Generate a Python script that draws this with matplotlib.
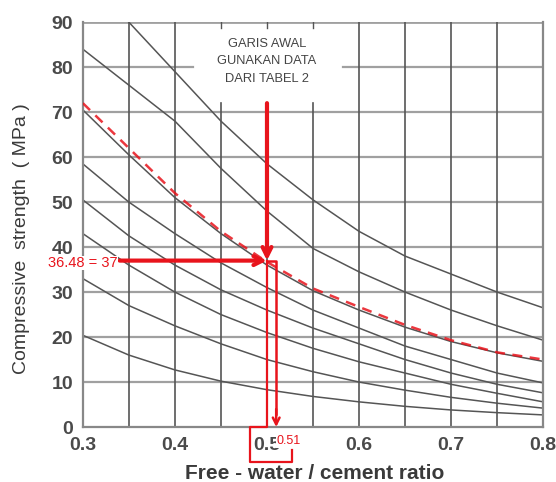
import numpy as np
import matplotlib.pyplot as plt

# free water / cement ratio where the curves were read
wc = [0.30, 0.35, 0.40, 0.45, 0.50, 0.55, 0.60, 0.65, 0.70, 0.75, 0.80]

# grey strength curves (MPa), top to bottom
curve_1 = [101.0, 90.0, 79.0, 68.0, 58.5, 50.5, 43.5, 38.0, 34.0, 30.0, 26.5]
curve_2 = [84.0, 76.0, 68.0, 57.5, 48.0, 39.7, 34.5, 30.0, 26.0, 22.5, 19.3]
curve_3 = [70.5, 60.5, 51.0, 43.0, 36.0, 30.3, 26.0, 22.2, 19.0, 16.5, 14.6]
curve_4 = [58.5, 50.0, 43.0, 36.5, 31.0, 26.0, 22.0, 18.0, 15.0, 12.0, 9.8]
curve_5 = [50.5, 42.5, 36.0, 30.5, 26.0, 22.0, 18.5, 15.0, 12.0, 9.5, 7.6]
curve_6 = [43.0, 36.0, 30.0, 25.0, 21.0, 17.5, 14.5, 12.0, 9.5, 7.5, 5.6]
curve_7 = [33.0, 27.0, 22.5, 18.5, 15.0, 12.3, 10.0, 8.2, 6.6, 5.3, 4.2]
curve_8 = [20.4, 16.0, 12.7, 10.2, 8.3, 6.8, 5.6, 4.6, 3.8, 3.2, 2.7]
grey_curves = [curve_1, curve_2, curve_3, curve_4, curve_5, curve_6, curve_7, curve_8]

# red dashed curve (start line from table 2)
red_curve = [72.0, 62.0, 52.0, 43.5, 36.7, 30.8, 26.7, 22.7, 19.3, 16.6, 15.0]

# reading
target_label = '36.48 = 37'
strength_read = 37
wc_line = 0.50
wc_result = 0.51
wc_ticks = [0.3, 0.4, 0.5, 0.6, 0.7, 0.8]
mpa_ticks = [0, 10, 20, 30, 40, 50, 60, 70, 80, 90]

RED = '#e8141c'
GRID_H = '#a0a0a0'
GRID_V = '#555555'

plt.rcParams['font.family'] = ['Liberation Sans', 'DejaVu Sans']

fig = plt.figure(figsize=(5.56, 4.82), dpi=100)
ax = fig.add_axes([0.149, 0.114, 0.828, 0.840])
ax.set_xlim(0.3, 0.8)
ax.set_ylim(0, 90)

# grid
for y in mpa_ticks[1:-1]:
    if y == 80:
        ax.axhline(y, xmin=0, xmax=0.24, color=GRID_H, lw=1.6, zorder=1)
        ax.axhline(y, xmin=0.566, xmax=1, color=GRID_H, lw=1.6, zorder=1)
    else:
        ax.axhline(y, color=GRID_H, lw=1.6, zorder=1)
ax.axhline(90, color=GRID_H, lw=2.0, zorder=1)
for x in np.arange(0.35, 0.8, 0.05):
    if 0.44 < x < 0.56:
        ax.axvline(x, ymin=0, ymax=72 / 90, color=GRID_V, lw=1.2, zorder=1)
        ax.plot([x, x], [88.8, 90], color=GRID_V, lw=1.0, zorder=1)
    else:
        ax.axvline(x, color=GRID_V, lw=1.2, zorder=1)

for c in grey_curves:
    ax.plot(wc, c, color='#555555', lw=1.1, zorder=2)
ax.plot(wc, red_curve, color=RED, lw=1.8, ls=(0, (4, 3)), alpha=0.85, zorder=3)

# annotation lines
arrow = dict(arrowstyle='->', color=RED, lw=3, mutation_scale=16, shrinkA=0, shrinkB=0)
ax.annotate('', xy=(wc_line, strength_read), xytext=(wc_line, 72), arrowprops=arrow, zorder=5)
ax.annotate('', xy=(wc_line, strength_read), xytext=(0.34, strength_read), arrowprops=arrow, zorder=5)
ax.plot([wc_line, wc_result, wc_result], [strength_read, strength_read, 3], color=RED, lw=1.8, zorder=5)
ax.annotate('', xy=(wc_result, 0), xytext=(wc_result, 4),
            arrowprops=dict(arrowstyle='->', color=RED, lw=1.8, mutation_scale=12, shrinkA=0, shrinkB=0), zorder=5)
ax.plot([wc_line, wc_line, 0.482, 0.482, 0.527, 0.527],
        [strength_read, 0, 0, -7.8, -7.8, -5.1], color=RED, lw=1.6, zorder=5, clip_on=False)

ax.text(0.338, strength_read - 0.5, target_label, color=RED, fontsize=10.5, ha='right', va='center',
        bbox=dict(facecolor='white', edgecolor='none', pad=0.2), zorder=6, clip_on=False)
ax.text(0.5235, -3.2, f'{wc_result:.2f}', color=RED, fontsize=9, ha='center', va='center',
        bbox=dict(facecolor='white', edgecolor='none', pad=0.3), zorder=6, clip_on=False)

ax.text(0.5, 81.3, 'GARIS AWAL\nGUNAKAN DATA\nDARI TABEL 2', color='#444444', fontsize=9.3,
        ha='center', va='center', linespacing=1.6, zorder=4)

ax.set_xticks(wc_ticks)
ax.set_xticklabels([f'{t:g}' for t in wc_ticks])
ax.set_yticks(mpa_ticks)
ax.tick_params(length=0, labelsize=14, labelcolor='#4a4a4a', pad=7)
for lab in ax.get_xticklabels() + ax.get_yticklabels():
    lab.set_fontweight('bold')
for s in ['left', 'bottom', 'right']:
    ax.spines[s].set_color('#888888')
    ax.spines[s].set_linewidth(1.6)
ax.spines['top'].set_visible(False)

ax.set_xlabel('Free - water / cement ratio', fontsize=15, color='#3a3a3a', fontweight='bold')
ax.set_ylabel('Compressive  strength  ( MPa )', fontsize=14, color='#3a3a3a')
ax.xaxis.set_label_coords(0.504, -0.092)
ax.yaxis.set_label_coords(-0.115, 0.465)

fig.savefig('out.png', dpi=100)
